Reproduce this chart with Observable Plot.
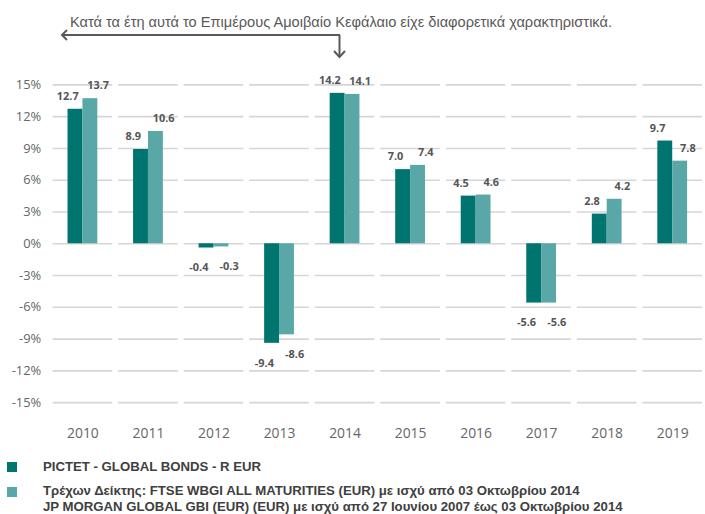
<!DOCTYPE html>
<html>
<head>
<meta charset="utf-8">
<script src="https://cdn.jsdelivr.net/npm/d3@7"></script>
<script src="https://cdn.jsdelivr.net/npm/@observablehq/plot@0.6"></script>
<style>
  html, body { margin: 0; padding: 0; background: #fff; }
  #wrap { position: relative; width: 705px; height: 514px; overflow: hidden; }
  #chart { position: absolute; left: 0; top: 0; }
  #note { position: absolute; left: 0; top: 0; }
  .leg { position: absolute; font-family: "Liberation Sans", Arial, sans-serif; font-weight: bold; font-size: 13.2px; color: #404040; line-height: 16px; white-space: nowrap; }
  .sw { position: absolute; width: 10px; height: 10px; }
  #chart svg [aria-label^="fx-axis"] text { font-size: 14px; }
  #chart svg [aria-label^="y-axis"] text { font-size: 13px; }
</style>
</head>
<body>
<div id="wrap">
  <div id="chart"></div>
  <svg id="note" width="705" height="70">
    <text x="70" y="27" font-family="Liberation Sans, Arial, sans-serif" font-size="14" fill="#595959" textLength="542" lengthAdjust="spacingAndGlyphs">Κατά τα έτη αυτά το Επιμέρους Αμοιβαίο Κεφάλαιο είχε διαφορετικά χαρακτηριστικά.</text>
    <g fill="none" stroke="#595959" stroke-width="2">
      <line x1="62" y1="35" x2="340" y2="35"/>
      <polyline points="67,30 62,35 67,40"/>
      <line x1="339.5" y1="35" x2="339.5" y2="56"/>
      <polyline points="334,51 339.5,57 345,51"/>
    </g>
  </svg>
  <div class="sw" id="sw1" style="left:7px; top:462px;"></div>
  <div class="leg" id="lg1" style="left:43px; top:459px;"></div>
  <div class="sw" id="sw2" style="left:7px; top:487px;"></div>
  <div class="leg" id="lg2" style="left:43px; top:483px;"></div>
</div>
<script>
const years = ["2010","2011","2012","2013","2014","2015","2016","2017","2018","2019"];
const fundName = "PICTET - GLOBAL BONDS - R EUR";
const indexName = "Τρέχων Δείκτης: FTSE WBGI ALL MATURITIES (EUR) με ισχύ από 03 Οκτωβρίου 2014";
const indexName2 = "JP MORGAN GLOBAL GBI (EUR) (EUR) με ισχύ από 27 Ιουνίου 2007 έως 03 Οκτωβρίου 2014";
const fundValues = [12.7, 8.9, -0.4, -9.4, 14.2, 7.0, 4.5, -5.6, 2.8, 9.7];
const indexValues = [13.7, 10.6, -0.3, -8.6, 14.1, 7.4, 4.6, -5.6, 4.2, 7.8];
const yTicks = [-15, -12, -9, -6, -3, 0, 3, 6, 9, 12, 15];
const colorFund = "#00746F";
const colorIndex = "#5AA7A7";

const series = ["fund", "index"];
const data = [];
years.forEach((y, i) => {
  data.push({year: y, series: "fund", value: fundValues[i]});
  data.push({year: y, series: "index", value: indexValues[i]});
});

const labelStyle = {fontSize: 11, fontWeight: "bold", fill: "#555"};
const fmt = d => d.value.toFixed(1);

const chart = Plot.plot({
  width: 710,
  height: 453,
  marginLeft: 50,
  marginRight: 0,
  marginTop: 85,
  marginBottom: 48,
  style: {fontFamily: "'Open Sans', sans-serif", fontSize: "13px", color: "#666", background: "transparent"},
  facet: {data: data, x: "year", marginTop: 0, marginBottom: 0},
  fx: {domain: years, paddingInner: 0.09, paddingOuter: 0.045, axis: "bottom", label: null, tickSize: 0, tickPadding: 26},
  x: {domain: series, axis: null, paddingInner: 0, paddingOuter: 0.935},
  y: {domain: [-15, 15], ticks: yTicks, tickFormat: d => d + "%", label: null, tickSize: 0, tickPadding: 12},
  color: {domain: series, range: [colorFund, colorIndex]},
  marks: [
    Plot.ruleY(yTicks, {stroke: "#d6d6d6", strokeWidth: 1.6}),
    Plot.barY(data, {x: "series", y: "value", fill: "series"}),
    Plot.text(data, {filter: d => d.series === "fund" && d.value >= 0, x: "series", y: "value", text: fmt, dx: -7.75, dy: -13, ...labelStyle}),
    Plot.text(data, {filter: d => d.series === "index" && d.value >= 0, x: "series", y: "value", text: fmt, dx: 7.75, dy: -13, ...labelStyle}),
    Plot.text(data, {filter: d => d.series === "fund" && d.value < 0, x: "series", y: "value", text: fmt, dx: -7.75, dy: 20, ...labelStyle}),
    Plot.text(data, {filter: d => d.series === "index" && d.value < 0, x: "series", y: "value", text: fmt, dx: 7.75, dy: 20, ...labelStyle})
  ]
});
document.getElementById("chart").appendChild(chart);

document.getElementById("sw1").style.background = colorFund;
document.getElementById("sw2").style.background = colorIndex;
document.getElementById("lg1").textContent = fundName;
document.getElementById("lg2").innerHTML = "";
[indexName, indexName2].forEach(t => {
  const d = document.createElement("div");
  d.textContent = t;
  document.getElementById("lg2").appendChild(d);
});
</script>
</body>
</html>
